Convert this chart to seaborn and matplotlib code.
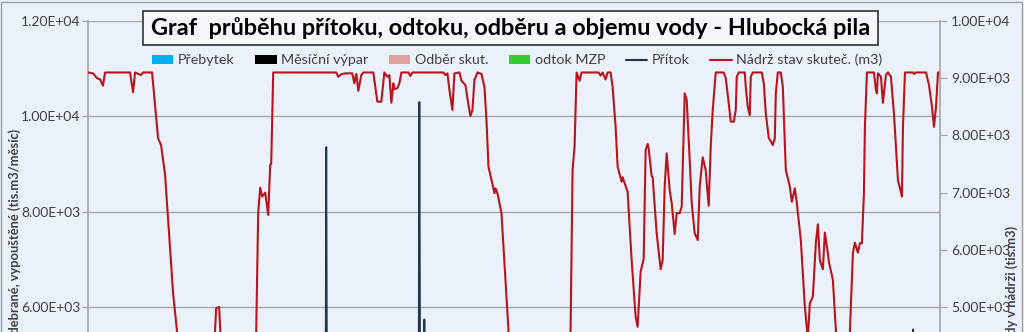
import matplotlib
matplotlib.use("Agg")
import matplotlib.pyplot as plt
import seaborn as sns
import pandas as pd
from matplotlib.patches import Patch, Rectangle
from matplotlib.lines import Line2D
from matplotlib.ticker import FuncFormatter, FixedLocator

# ---------------- data ----------------
# reservoir storage (right axis, tis. m3) – month index vs value
storage_month = [0, 5, 9, 12, 15, 17, 42, 45, 47, 53, 55, 64, 70, 73, 77, 85, 89, 95, 110, 125,
                 128, 131, 134, 150, 165, 168, 170, 172, 174, 177, 180, 182, 183, 185, 248, 250,
                 253, 257, 264, 266, 268, 270, 273, 275, 285, 289, 293, 296, 299, 301, 303, 305,
                 306, 309, 311, 313, 320, 322, 324, 355, 357, 359, 361, 364, 366, 371, 373, 377,
                 380, 382, 384, 386, 389, 393, 396, 398, 400, 406, 407, 409, 413, 420, 428, 450,
                 476, 482, 484, 486, 488, 491, 493, 510, 512, 514, 517, 519, 522, 524, 527, 529,
                 533, 534, 536, 539, 543, 547, 549, 552, 555, 557, 559, 560, 563, 564, 568, 572,
                 574, 576, 578, 581, 583, 586, 588, 591, 593, 596, 598, 601, 603, 606, 609, 611,
                 614, 617, 618, 620, 622, 624, 627, 635, 637, 640, 642, 645, 647, 648, 650, 656,
                 657, 659, 661, 662, 664, 673, 675, 677, 680, 682, 684, 686, 687, 689, 692, 694,
                 697, 701, 703, 706, 708, 712, 716, 719, 721, 724, 727, 729, 731, 734, 736, 739,
                 740, 744, 747, 752, 758, 761, 764, 766, 769, 771, 773, 775, 776, 778, 785, 787,
                 788, 789, 792, 794, 797, 799, 802, 805, 809, 813, 814, 816, 824, 825, 827, 837,
                 840, 843, 845, 847, 849, 851]
storage_value = [9100, 9085, 9000, 8980, 8870, 9100, 9100, 8755, 9100, 9055, 9100, 9100, 7950, 7830,
                 7310, 5240, 4560, 3600, 3300, 3900, 4980, 5000, 3900, 3400, 3700, 4560, 6640, 7085,
                 6930, 7000, 6610, 7485, 7500, 9100, 9100, 9025, 9070, 9085, 9085, 8910, 9075, 8780,
                 9055, 9100, 9100, 8590, 8590, 9100, 9025, 9055, 8570, 8910, 8810, 8825, 8910, 9100,
                 9100, 9040, 9100, 9100, 9055, 9085, 8795, 8445, 9085, 9100, 8955, 8880, 8530, 8340,
                 8445, 8970, 9100, 9075, 8850, 8270, 7455, 6990, 7075, 6990, 6640, 4560, 3700, 3200,
                 3400, 4560, 7395, 7805, 9100, 8955, 9100, 9100, 9045, 9100, 8980, 9100, 9100, 8850,
                 8150, 7455, 7190, 7270, 7165, 7015, 5820, 4830, 4655, 5620, 5835, 7745, 7850, 7775,
                 7290, 7270, 6290, 5660, 5820, 7105, 7685, 7045, 6815, 6275, 6640, 6640, 6755, 8735,
                 8620, 7570, 6815, 6290, 6170, 7105, 7615, 7395, 7165, 6770, 7805, 8445, 9100, 9100,
                 9000, 8560, 8240, 8240, 8445, 9025, 9100, 9100, 8850, 8500, 8355, 9025, 9100, 9100,
                 8910, 8385, 7950, 7900, 7830, 7950, 8735, 9100, 9100, 8850, 7395, 7105, 6840, 7075,
                 6815, 6170, 5005, 4450, 5065, 5180, 6115, 6445, 5820, 5660, 6300, 5940, 5790, 5475,
                 4565, 4000, 4000, 4565, 5940, 6125, 5950, 6115, 6115, 6990, 8150, 9100, 9100, 8795,
                 8735, 9085, 9025, 8570, 9055, 9100, 9025, 8385, 7220, 6930, 8150, 9100, 9100, 9075,
                 9100, 9100, 8880, 8500, 8150, 8500, 9100, 9100]

# inflow (left axis, tis. m3/month)
inflow_month = [0, 120, 236, 237, 238, 239, 300, 330, 331, 332, 334, 336, 337, 500, 700, 822, 824,
                826, 851]
inflow_value = [1200, 1500, 1800, 2200, 9355, 2000, 1500, 2500, 10300, 2500, 2000, 5740, 2000,
                1500, 1800, 2000, 5530, 2000, 1500]

left_ticks = [0, 2000, 4000, 6000, 8000, 10000, 12000]
right_ticks = [0, 1000, 2000, 3000, 4000, 5000, 6000, 7000, 8000, 9000, 10000]

legend_labels = ["Přebytek", "Měsíční výpar", "Odběr skut.", "odtok MZP", "Přítok",
                 "Nádrž stav skuteč. (m3)"]
legend_colors = ["#00B0F0", "#000000", "#E0A09E", "#33CC33", "#24364F", "#B8141C"]

title_text = "Graf  průběhu přítoku, odtoku, odběru a objemu vody - Hlubocká pila"
left_label = "Objemy přitékající, odebrané, vypouštěné (tis.m3/měsíc)"
right_label = "Objem vody v nádrži (tis.m3)"

# ---------------- styling ----------------
sns.set_theme(style="white")
plt.rcParams['font.family'] = ['Lato', 'DejaVu Sans']

bg = "#EAF1FB"
grid_c = "#A6A6A6"
text_c = "#404040"

W, H = 1024, 332
fig = plt.figure(figsize=(W / 100, H / 100), dpi=100)
fig.patch.set_facecolor(bg)

# plot area: top at y=21 px, zero line at y=593 px (below the visible crop)
ax = fig.add_axes([88 / W, (H - 593) / H, 852 / W, 572 / H])
ax.set_facecolor(bg)
ax2 = ax.twinx()
ax2.patch.set_visible(False)

df_in = pd.DataFrame({"month": inflow_month, "value": inflow_value})
df_st = pd.DataFrame({"month": storage_month, "value": storage_value})

sns.lineplot(data=df_in, x="month", y="value", ax=ax, color=legend_colors[4], linewidth=1.3)
sns.lineplot(data=df_st, x="month", y="value", ax=ax2, color=legend_colors[5], linewidth=1.5)

ax.set_xlim(0, 851)
ax.set_ylim(0, 12000)
ax2.set_ylim(0, 10000)
ax.set_xticks([])
ax2.set_xticks([])
ax.set_xlabel("")
ax2.set_xlabel("")
ax.set_ylabel("")
ax2.set_ylabel("")

fmt = FuncFormatter(lambda v, p: "{:.2E}".format(v))
ax.yaxis.set_major_locator(FixedLocator(left_ticks))
ax.yaxis.set_major_formatter(fmt)
ax2.yaxis.set_major_locator(FixedLocator(right_ticks))
ax2.yaxis.set_major_formatter(fmt)

ax.yaxis.grid(True, color=grid_c, linewidth=1.0)
ax.set_axisbelow(True)

for a in (ax, ax2):
    for s in a.spines.values():
        s.set_visible(False)
ax.spines["left"].set_visible(True)
ax.spines["left"].set_color(grid_c)
ax2.spines["right"].set_visible(True)
ax2.spines["right"].set_color(grid_c)

ax.tick_params(axis="y", which="major", direction="out", length=4, width=0.8, color=grid_c,
               labelsize=10, labelcolor=text_c, pad=1.5, left=True)
ax2.tick_params(axis="y", which="major", direction="out", length=5, width=0.8, color=grid_c,
                labelsize=10, labelcolor=text_c, pad=3, right=True)

# axis titles (partly cut by the lower edge, as in the reference)
fig.text(15 / W, 1 - 129 / H, left_label, rotation=90, ha="center", va="top",
         fontsize=9.3, fontweight="bold", color=text_c)
fig.text(1012 / W, 1 - 226 / H, right_label, rotation=90, ha="center", va="top",
         fontsize=9.3, fontweight="bold", color=text_c)

# outer chart frame
fig.patches.append(Rectangle((0.5 / W, -1), (W - 2.5) / W, 1 + (H - 1.5) / H,
                             transform=fig.transFigure, fill=False, edgecolor="#A0A0A0",
                             linewidth=1.0))

# title box
fig.patches.append(Rectangle((143 / W, 1 - 45 / H), 735 / W, 34 / H, transform=fig.transFigure,
                             facecolor="#F4F8FD", edgecolor="#303030", linewidth=1.2))
fig.text(511 / W, 1 - 28.5 / H, title_text, ha="center", va="center", fontsize=16.9,
         fontweight="bold", color="black")

# legend
handles = []
for lab, col in zip(legend_labels[:4], legend_colors[:4]):
    handles.append(Patch(facecolor=col, edgecolor="none", label=lab))
for lab, col in zip(legend_labels[4:], legend_colors[4:]):
    handles.append(Line2D([0], [0], color=col, linewidth=1.5, label=lab))
fig.legend(handles=handles, loc="center", bbox_to_anchor=(517 / W, 1 - 60 / H), ncol=6,
           frameon=False, fontsize=10.3, handlelength=1.5, handleheight=0.55, handletextpad=0.3,
           columnspacing=1.45, labelcolor=text_c)

fig.savefig("out.png", dpi=100, facecolor=bg)
